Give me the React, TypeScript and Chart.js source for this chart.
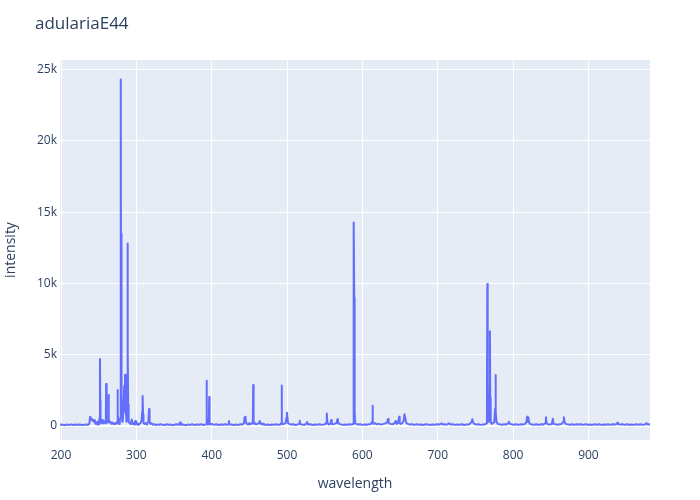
import React, { useEffect, useRef } from "react";
import { Chart, registerables } from "chart.js";

Chart.register(...registerables);

const chartTitle = "adulariaE44";
const xTitle = "wavelength";
const yTitle = "intensity";

const xTickValues = [200, 300, 400, 500, 600, 700, 800, 900];
const yTickValues = [0, 5000, 10000, 15000, 20000, 25000];
const yTickLabels = ["0", "5k", "10k", "15k", "20k", "25k"];

const wavelength = [
  198.3, 201, 204, 207, 210, 213, 216, 219, 222, 225,
  228, 231, 234, 236.5, 237.8, 238.5, 239.2, 240, 241, 242,
  243, 244, 245, 246, 247, 248, 249, 250.3, 251.2, 251.7,
  252.1, 252.5, 253.5, 254.5, 255.5, 257, 258.5, 259.5, 259.9, 260.3,
  260.8, 261.8, 262.6, 263.1, 263.6, 264.2, 265.5, 267, 268.5, 270,
  271.5, 273, 274.5, 275.0, 275.5, 276, 277, 278, 278.9, 279.3,
  279.7, 280.1, 280.6, 281.3, 282, 283, 283.8, 284.3, 285, 285.8,
  286.3, 287, 287.8, 288.3, 288.7, 289.2, 289.8, 291, 292.5, 294,
  294.8, 296, 297.5, 298.5, 299.5, 301, 302.5, 304, 305.5, 307,
  307.7, 308.3, 308.9, 309.5, 311, 312.5, 314, 315.5, 316.2, 316.9,
  317.5, 318.5, 320, 322, 324, 326, 328, 330, 332, 334,
  336, 338, 340, 342, 345, 348, 351, 354, 356.5, 358,
  359, 362, 365, 368, 371, 374, 377, 380, 383, 386,
  389, 391, 392.8, 393.2, 393.6, 394.2, 395, 396.2, 396.7, 397.2,
  397.8, 400, 403, 406, 409, 412, 415, 418, 421, 422.4,
  422.9, 423.4, 426, 429, 432, 435, 438, 441, 442.8, 443.6,
  444.3, 445, 445.8, 447, 448.5, 450, 451.5, 453, 454.6, 455.1,
  455.6, 456.5, 457.5, 459, 461, 462.5, 463.7, 464.6, 466, 467.5,
  469, 471, 474, 477, 480, 483, 486, 489, 491, 492.3,
  492.8, 493.3, 494, 496, 498, 499.3, 499.8, 500.5, 501.3, 503,
  505, 508, 511, 514, 516, 516.8, 517.6, 520, 523, 525.5,
  526.8, 528, 531, 534, 537, 540, 543, 546, 549, 551.5,
  552.3, 552.8, 553.4, 554.5, 556, 557.8, 558.6, 559.3, 561, 563,
  565, 566.2, 566.8, 567.6, 569, 571, 574, 577, 580, 583,
  586, 587.6, 588.1, 588.4, 588.8, 589.2, 589.5, 589.9, 590.5, 592,
  594, 597, 600, 603, 606, 609, 611.5, 612.8, 613.4, 614,
  615, 617, 619, 622, 625, 628, 631, 633.2, 634, 634.8,
  637, 640, 642.5, 643.5, 644.5, 645.5, 647, 648, 648.8, 649.5,
  651, 653, 654.8, 655.8, 656.8, 658, 660, 663, 666, 669,
  672, 675, 678, 681, 684, 687, 690, 693, 696, 699,
  702, 704, 705.2, 706.5, 709, 712, 715.4, 717, 720, 723,
  726, 729, 732, 735, 738, 741, 743.5, 745, 746, 747,
  748.5, 751, 754, 757, 760, 762.5, 764.8, 765.3, 765.8, 766.3,
  767, 768, 768.6, 769.2, 769.7, 770.3, 771.5, 773, 775, 776,
  776.6, 777.2, 778, 779.5, 782, 785, 788, 791, 793.5, 794.4,
  795.5, 798, 801, 804, 807, 810, 813, 816, 817.8, 818.6,
  819.4, 820.3, 821.2, 822.5, 825, 828, 831, 834, 837, 840,
  842.8, 843.6, 844.4, 846, 849, 851.5, 852.8, 853.6, 856, 859,
  862, 864.5, 866.5, 867.4, 868.2, 869.5, 872, 875, 878, 881,
  884, 887, 890, 893, 896, 899, 902, 905, 908, 911,
  914, 917, 920, 923, 926, 929, 932, 935, 937.5, 938.3,
  939.2, 942, 945, 948, 951, 954, 957, 960, 963, 966,
  969, 972, 975, 977, 978.5, 981, 982,
];

const intensity = [
  80, 110, 60, 100, 75, 115, 70, 100, 85, 110,
  65, 95, 105, 90, 200, 630, 450, 500, 400, 460,
  330, 400, 220, 150, 260, 120, 300, 100, 600, 4700,
  1800, 300, 200, 420, 180, 350, 200, 250, 2950, 900,
  300, 250, 400, 2170, 500, 250, 300, 150, 250, 120,
  200, 150, 300, 2520, 900, 200, 150, 400, 600, 24300,
  6000, 13500, 2000, 300, 400, 1200, 2800, 1000, 3600, 3500,
  800, 300, 1000, 12800, 5300, 1500, 300, 200, 150, 450,
  150, 200, 100, 350, 120, 200, 80, 150, 200, 400,
  1000, 2100, 800, 200, 150, 200, 100, 300, 600, 1200,
  300, 150, 200, 90, 130, 60, 110, 80, 140, 70,
  100, 60, 120, 90, 110, 60, 100, 120, 80, 250,
  90, 110, 60, 100, 80, 120, 70, 100, 85, 120,
  70, 100, 120, 3180, 600, 150, 100, 300, 2030, 300,
  100, 150, 80, 120, 70, 110, 90, 120, 80, 150,
  350, 100, 110, 70, 100, 80, 120, 100, 200, 600,
  650, 500, 200, 150, 100, 200, 120, 150, 300, 2870,
  300, 150, 200, 120, 150, 200, 350, 150, 200, 100,
  150, 80, 110, 70, 100, 90, 120, 80, 100, 200,
  2850, 300, 120, 150, 200, 600, 930, 600, 200, 150,
  100, 120, 70, 110, 150, 370, 120, 100, 80, 150,
  280, 100, 120, 70, 110, 90, 120, 80, 110, 150,
  300, 880, 300, 150, 100, 200, 420, 150, 120, 150,
  200, 300, 470, 300, 150, 120, 80, 110, 90, 120,
  100, 150, 10800, 3000, 14280, 9000, 7800, 1000, 200, 150,
  100, 120, 80, 110, 90, 130, 150, 300, 1420, 300,
  150, 200, 120, 150, 100, 150, 200, 300, 490, 200,
  150, 120, 200, 300, 350, 150, 200, 400, 650, 200,
  150, 200, 400, 820, 600, 250, 150, 100, 130, 80,
  120, 90, 110, 70, 120, 100, 80, 110, 90, 120,
  100, 150, 190, 100, 130, 90, 190, 100, 120, 80,
  110, 90, 120, 70, 110, 100, 200, 300, 470, 250,
  150, 100, 120, 80, 110, 100, 200, 1500, 9960, 3000,
  600, 300, 1500, 6650, 2000, 300, 150, 200, 250, 1200,
  3580, 1000, 300, 150, 120, 90, 130, 100, 200, 300,
  150, 120, 90, 130, 80, 120, 100, 150, 300, 650,
  300, 600, 250, 150, 110, 90, 130, 80, 120, 100,
  200, 610, 200, 120, 100, 150, 510, 150, 120, 90,
  130, 150, 300, 610, 300, 150, 120, 90, 130, 80,
  120, 100, 130, 80, 120, 90, 110, 80, 130, 90,
  120, 80, 110, 90, 130, 80, 120, 100, 150, 230,
  120, 100, 130, 80, 120, 90, 110, 80, 130, 90,
  120, 80, 110, 200, 100, 120, 90,
];

const xMin = 198.67;
const xMax = 981.7;
const yMin = -980;
const yMax = 25670;

const textColor = "#2a3f5f";
const fontFamily = "'Open Sans', verdana, arial, sans-serif";

const titlePlugin = {
  id: "plotTitle",
  afterDraw(chart: any) {
    const ctx = chart.ctx;
    ctx.save();
    ctx.font = `17px ${fontFamily}`;
    ctx.fillStyle = textColor;
    ctx.textAlign = "left";
    ctx.textBaseline = "middle";
    ctx.fillText(chartTitle, 35, 24);
    ctx.restore();
  },
};

const bgPlugin = {
  id: "plotBg",
  beforeDraw(chart: any) {
    const { ctx, chartArea } = chart;
    ctx.save();
    ctx.fillStyle = "#ffffff";
    ctx.fillRect(0, 0, chart.width, chart.height);
    ctx.fillStyle = "#E5ECF6";
    ctx.fillRect(chartArea.left, chartArea.top, chartArea.right - chartArea.left, chartArea.bottom - chartArea.top);
    ctx.restore();
  },
};

export default function App() {
  const ref = useRef<HTMLCanvasElement | null>(null);

  useEffect(() => {
    if (!ref.current) return;
    const points = wavelength.map((x, i) => ({ x, y: intensity[i] }));
    const chart = new Chart(ref.current, {
      type: "line",
      data: {
        datasets: [
          {
            data: points,
            borderColor: "#636efa",
            borderWidth: 2,
            borderJoinStyle: "round",
            borderCapStyle: "round",
            pointRadius: 0,
            tension: 0,
            fill: false,
          },
        ],
      },
      options: {
        animation: false,
        responsive: false,
        devicePixelRatio: 1,
        layout: { padding: { left: 0, right: 50, top: 60, bottom: 0 } },
        plugins: {
          legend: { display: false },
          tooltip: { enabled: false },
          title: { display: false },
        },
        scales: {
          x: {
            type: "linear",
            min: xMin,
            max: xMax,
            afterBuildTicks: (scale: any) => {
              scale.ticks = xTickValues.map((v) => ({ value: v }));
            },
            afterFit: (scale: any) => {
              scale.height = 60;
            },
            grid: { color: "#ffffff", lineWidth: 1, drawTicks: false },
            border: { display: false },
            ticks: {
              autoSkip: false,
              maxRotation: 0,
              padding: 8,
              color: textColor,
              font: { family: fontFamily, size: 12 },
              callback: (v: any) => String(v),
            },
            title: {
              display: true,
              text: xTitle,
              color: textColor,
              font: { family: fontFamily, size: 14 },
              padding: { top: 0, bottom: 8 },
            },
          },
          y: {
            type: "linear",
            min: yMin,
            max: yMax,
            afterBuildTicks: (scale: any) => {
              scale.ticks = yTickValues.map((v) => ({ value: v }));
            },
            afterFit: (scale: any) => {
              scale.width = 60;
            },
            grid: {
              color: "#ffffff",
              lineWidth: (c: any) => (c.tick && c.tick.value === 0 ? 2 : 1),
              drawTicks: false,
            },
            border: { display: false },
            ticks: {
              autoSkip: false,
              padding: 3,
              color: textColor,
              font: { family: fontFamily, size: 12 },
              callback: (v: any) => {
                const i = yTickValues.indexOf(Number(v));
                return i >= 0 ? yTickLabels[i] : "";
              },
            },
            title: {
              display: true,
              text: yTitle,
              color: textColor,
              font: { family: fontFamily, size: 14 },
              padding: { top: 3, bottom: 0 },
            },
          },
        },
      },
      plugins: [bgPlugin, titlePlugin],
    });
    return () => chart.destroy();
  }, []);

  return (
    <div style={{ position: "fixed", left: 0, top: 0, width: 700, height: 500, background: "#fff" }}>
      <canvas ref={ref} width={700} height={500} style={{ display: "block" }} />
    </div>
  );
}
